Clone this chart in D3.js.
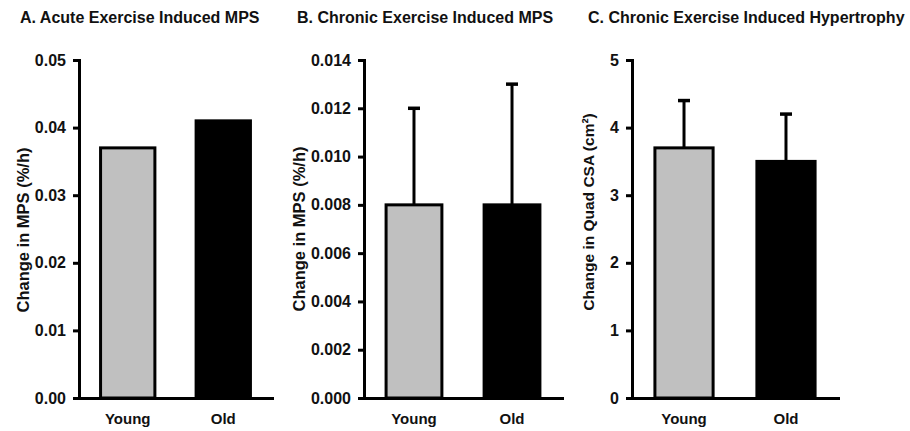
<!DOCTYPE html>
<html>
<head>
<meta charset="utf-8">
<script src="https://cdn.jsdelivr.net/npm/d3@7"></script>
<style>
  body { margin: 0; background: #fff; }
  svg { display: block; font-family: "Liberation Sans", Arial, sans-serif; font-weight: bold; }
</style>
</head>
<body>
<div id="chart"></div>
<script>
const groups = ['Young', 'Old'];
const titles = ['A. Acute Exercise Induced MPS', 'B. Chronic Exercise Induced MPS', 'C. Chronic Exercise Induced Hypertrophy'];
const yTitles = ['Change in MPS (%/h)', 'Change in MPS (%/h)', 'Change in Quad CSA (cm²)'];

const acuteMPS = [0.037, 0.041];
const chronicMPS = [0.008, 0.008];
const chronicMPSErr = [0.004, 0.005];
const quadCSA = [3.7, 3.5];
const quadCSAErr = [0.7, 0.7];

const acuteTicks = [0, 0.01, 0.02, 0.03, 0.04, 0.05];
const chronicTicks = [0, 0.002, 0.004, 0.006, 0.008, 0.010, 0.012, 0.014];
const csaTicks = [0, 1, 2, 3, 4, 5];

const width = 910
    , height = 431
    , plotTop = 60
    , base = 398
    , barColors = ['#c0c0c0', '#000']
    , ink = '#111'
    ;

// one entry per panel: where the axes sit
const panels = [
  { values: acuteMPS, errs: null, ticks: acuteTicks, fmt: '.2f', x0: 79, x1: 272, labelX: 29, labelY: 230, labelSize: 16.5, titleX: 20 },
  { values: chronicMPS, errs: chronicMPSErr, ticks: chronicTicks, fmt: '.3f', x0: 364, x1: 562, labelX: 305, labelY: 229, labelSize: 16.5, titleX: 297 },
  { values: quadCSA, errs: quadCSAErr, ticks: csaTicks, fmt: 'd', x0: 632, x1: 838, labelX: 594, labelY: 212, labelSize: 15.5, titleX: 588 }
];

const svg = d3.select('#chart').append('svg')
  .attr('width', width)
  .attr('height', height);

panels.forEach((p, i) => {
  const g = svg.append('g');
  const ticks = p.ticks;

  const y = d3.scaleLinear()
    .domain([0, ticks[ticks.length - 1]])
    .range([base, plotTop]);

  const x = d3.scaleBand()
    .domain(groups)
    .range([p.x0, p.x1])
    .paddingInner(0.4)
    .paddingOuter(0.21);

  // bars
  g.selectAll('rect')
    .data(groups)
    .join('rect')
      .attr('x', d => x(d) + 1.5)
      .attr('width', x.bandwidth() - 3)
      .attr('y', (d, j) => y(p.values[j]))
      .attr('height', (d, j) => base - y(p.values[j]))
      .attr('fill', (d, j) => barColors[j])
      .attr('stroke', '#000')
      .attr('stroke-width', 3);

  // upper error bars only
  if (p.errs) {
    const eb = g.append('g')
      .attr('stroke', '#000')
      .attr('fill', 'none');
    groups.forEach((d, j) => {
      const cx = x(d) + x.bandwidth() / 2;
      const yTop = y(p.values[j] + p.errs[j]);
      eb.append('line')
        .attr('stroke-width', 3)
        .attr('x1', cx).attr('x2', cx)
        .attr('y1', y(p.values[j])).attr('y2', yTop);
      eb.append('line')
        .attr('stroke-width', 3.5)
        .attr('x1', cx - 6).attr('x2', cx + 6)
        .attr('y1', yTop).attr('y2', yTop);
    });
  }

  // y axis
  const yAxis = g.append('g')
    .attr('transform', `translate(${p.x0},0)`)
    .call(d3.axisLeft(y).tickValues(ticks).tickFormat(d3.format(p.fmt))
      .tickSize(6).tickSizeOuter(0).tickPadding(7));

  // x axis
  const xAxis = g.append('g')
    .attr('transform', `translate(0,${base})`)
    .call(d3.axisBottom(x).tickSize(0).tickSizeOuter(0).tickPadding(15));

  [yAxis, xAxis].forEach(a => {
    a.select('.domain').attr('stroke', '#000').attr('stroke-width', 3).attr('stroke-linecap', 'square');
    a.selectAll('.tick line').attr('stroke', '#000').attr('stroke-width', 3);
    a.selectAll('text')
      .attr('fill', ink)
      .style('font-size', '16px')
      .style('font-family', '"Liberation Sans", Arial, sans-serif')
      .style('font-weight', 'bold');
  });
  xAxis.selectAll('text').style('font-size', '15px');

  // titles
  g.append('text')
    .attr('x', p.titleX)
    .attr('y', 23)
    .attr('fill', ink)
    .style('font-size', '16px')
    .text(titles[i]);

  g.append('text')
    .attr('transform', `translate(${p.labelX},${p.labelY}) rotate(-90)`)
    .attr('text-anchor', 'middle')
    .attr('fill', ink)
    .style('font-size', `${p.labelSize}px`)
    .text(yTitles[i]);
});
</script>
</body>
</html>
